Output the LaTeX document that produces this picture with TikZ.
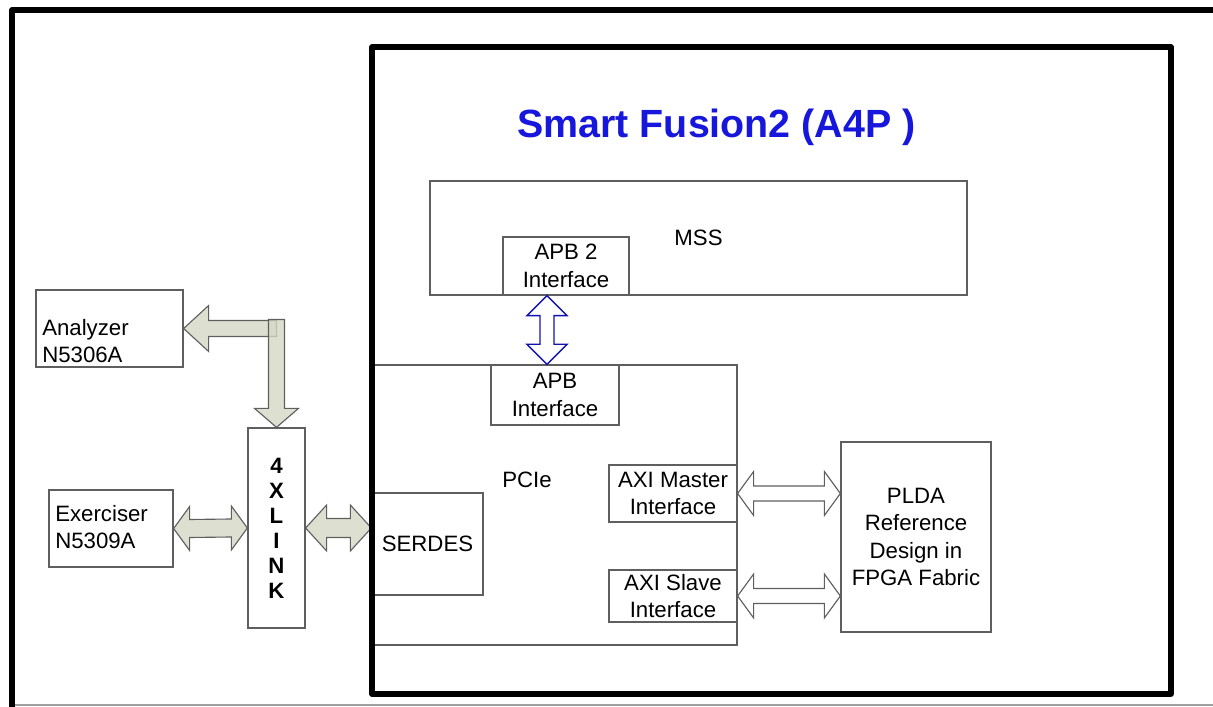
\documentclass[tikz,border=0pt]{standalone}
\usepackage{fontspec}
\setmainfont{Liberation Sans}
\usetikzlibrary{calc}

\definecolor{sfblue}{RGB}{22,22,220}
\definecolor{linkfill}{RGB}{212,216,196}
\definecolor{boxline}{RGB}{95,95,95}

% two-way block arrows: style, first end, second end, head length, half head, half shaft
\newcommand{\hbiarrow}[6]{%
  \draw[#1] (#2) -- ($(#2)+(#4,-#5)$) -- ($(#2)+(#4,-#6)$) -- ($(#3)+(-#4,-#6)$) -- ($(#3)+(-#4,-#5)$)
    -- (#3) -- ($(#3)+(-#4,#5)$) -- ($(#3)+(-#4,#6)$) -- ($(#2)+(#4,#6)$) -- ($(#2)+(#4,#5)$) -- cycle;}
\newcommand{\vbiarrow}[6]{%
  \draw[#1] (#2) -- ($(#2)+(#5,#4)$) -- ($(#2)+(#6,#4)$) -- ($(#3)+(#6,-#4)$) -- ($(#3)+(#5,-#4)$)
    -- (#3) -- ($(#3)+(-#5,-#4)$) -- ($(#3)+(-#6,-#4)$) -- ($(#2)+(-#6,#4)$) -- ($(#2)+(-#5,#4)$) -- cycle;}
% one-way block arrows: style, tail, tip, head length, half head, half shaft
\newcommand{\leftblk}[6]{%
  \draw[#1] (#3) -- ($(#3)+(#4,-#5)$) -- ($(#3)+(#4,-#6)$) -- ($(#2)+(0,-#6)$) -- ($(#2)+(0,#6)$)
    -- ($(#3)+(#4,#6)$) -- ($(#3)+(#4,#5)$) -- cycle;}
\newcommand{\downblk}[6]{%
  \draw[#1] (#3) -- ($(#3)+(-#5,-#4)$) -- ($(#3)+(-#6,-#4)$) -- ($(#2)+(-#6,0)$) -- ($(#2)+(#6,0)$)
    -- ($(#3)+(#6,-#4)$) -- ($(#3)+(#5,-#4)$) -- cycle;}

\tikzset{
  blk/.style={draw=boxline, line width=0.9pt, inner sep=0pt, align=center},
  lbl/.style={inner sep=0pt, align=left},
  frame/.style={line width=3.6pt, line join=round},
  linkarrow/.style={draw=boxline, line width=0.8pt, fill=linkfill, fill opacity=0.8},
  axiarrow/.style={draw=boxline, line width=0.8pt, fill=white},
  apbarrow/.style={draw=sfblue!80!black, line width=0.9pt, fill=white}
}

\begin{document}
\begin{tikzpicture}[x=0.025cm, y=-0.025cm, font=\fontsize{15.8}{19.5}\selectfont]
\useasboundingbox (0,0) rectangle (1213,707);

% outer frame
\draw[boxline!60, line width=0.8pt] (12,705) -- (1213,705);
\draw[frame] (12,712) -- (12,10) -- (1220,10);

% MSS part
\node[blk, minimum width=537*0.025cm, minimum height=114*0.025cm] (mss) at (698.5,238) {MSS};
\node[blk, fill=white, minimum width=126*0.025cm, minimum height=58*0.025cm] (apbtwo) at (566,266) {APB 2\\Interface};

% PCIe part
\node[blk, minimum width=365*0.025cm, minimum height=280*0.025cm] (pcie) at (554.5,505) {};
\node[lbl] (pcielbl) at (527,480) {PCIe};
\node[blk, fill=white, minimum width=128*0.025cm, minimum height=60*0.025cm] (apb) at (555,395) {APB\\Interface};
\node[blk, minimum width=111*0.025cm, minimum height=102*0.025cm] (serdes) at (427.5,544) {SERDES};
\node[blk, fill=white, minimum width=128*0.025cm, minimum height=57*0.025cm] (axim) at (673,493.5) {AXI Master\\Interface};
\node[blk, fill=white, minimum width=128*0.025cm, minimum height=52*0.025cm] (axis) at (673,596) {AXI Slave\\Interface};
\node[blk, minimum width=150*0.025cm, minimum height=190*0.025cm] (plda) at (916,537) {PLDA\\Reference\\Design in\\FPGA Fabric};

% title
\node[anchor=base, inner sep=0pt, text=sfblue, font=\fontsize{28}{32}\selectfont\bfseries] (title) at (716.5,138) {Smart Fusion2 (A4P )};

% test equipment
\node[blk, minimum width=57*0.025cm, minimum height=200*0.025cm, font=\fontsize{15.8}{17.8}\selectfont\bfseries] (link) at (276.5,528) {4\\X\\L\\I\\N\\K};
\node[blk, minimum width=147*0.025cm, minimum height=77*0.025cm] (anz) at (109.5,328.5) {};
\node[lbl, anchor=west] (anzlbl) at (42,341) {Analyzer\\N5306A};
\node[blk, minimum width=124*0.025cm, minimum height=77*0.025cm] (exer) at (111,528.5) {};
\node[lbl, anchor=west] (exerlbl) at (55,527) {Exerciser\\N5309A};

% connectors
\coordinate (bend) at (link.north |- anz.east);
\leftblk{linkarrow}{bend}{anz.east}{25}{23}{8}
\downblk{linkarrow}{$(bend)+(0,-9)$}{link.north}{19}{22}{8}
\hbiarrow{linkarrow}{exer.east}{link.west}{16}{22}{9}
\coordinate (serdesin) at (serdes.west |- link.east);
\hbiarrow{linkarrow}{link.east}{serdesin}{21}{23}{9.5}
\coordinate (mport) at (plda.west |- axim.east);
\hbiarrow{axiarrow}{axim.east}{mport}{16}{22}{7.5}
\coordinate (sport) at (plda.west |- axis.east);
\hbiarrow{axiarrow}{axis.east}{sport}{16}{22}{7.5}
\coordinate (apbtop) at ($(apbtwo.south)+(-19,0)$);
\coordinate (apbbot) at (apbtop |- apb.north);
\vbiarrow{apbarrow}{apbtop}{apbbot}{20}{20}{7}

% FPGA frame
\draw[frame] (372,47) rectangle (1171,694);
\end{tikzpicture}
\end{document}
